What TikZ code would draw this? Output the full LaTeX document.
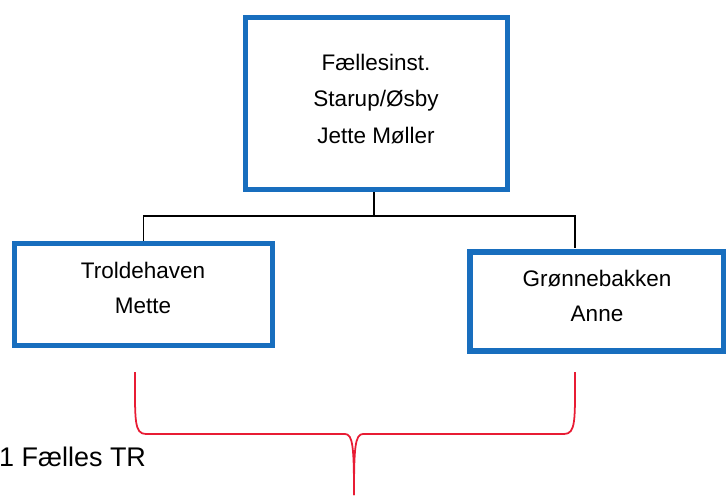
\documentclass[tikz,border=0pt]{standalone}
\usepackage{fontspec}
\setmainfont{Liberation Sans}
\usepackage{tikz}
\usetikzlibrary{positioning}

\definecolor{boxblue}{RGB}{24,110,190}
\definecolor{bracered}{RGB}{232,28,52}

\tikzset{
	unitbox/.style={draw=boxblue, line width=4.5pt, fill=white, rectangle},
	unittext/.style={align=center, inner sep=0pt, font=\fontsize{19.2}{30.5}\selectfont},
}

\begin{document}
\begin{tikzpicture}[x=0.03cm, y=-0.03cm]
	\useasboundingbox (0,0) rectangle (726,495);

	\node[unitbox, minimum width=7.86cm, minimum height=5.16cm] (top) at (376.5,103.5) {};
	\node[unitbox, minimum width=7.74cm, minimum height=3.06cm] (trold) at (143.5,294.5) {};
	\node[unitbox, minimum width=7.62cm, minimum height=2.97cm] (gron) at (597,301.5) {};

	\node[unittext, font=\fontsize{19.2}{31.5}\selectfont] (toptext) at (376,99) {F\ae llesinst.\\Starup/\O sby\\Jette M\o ller};
	\node[unittext] (troldtext) at (143,288) {Troldehaven\\Mette};
	\node[unittext] (grontext) at (597,296) {Gr\o nnebakken\\Anne};

	\coordinate (bar) at (374,216);
	\coordinate (gronin) at (575,248);
	\draw[line width=1.2pt] (top.south -| bar) -- (bar);
	\draw[line width=1.2pt] (trold) |- (bar);
	\draw[line width=1.2pt] (bar) -| (gronin);

	% brace under the two units
	\coordinate (bl) at (135,372);
	\coordinate (br) at (575,372);
	\coordinate (tip) at (354,495);
	\draw[bracered, line width=1.5pt, line join=round]
		(bl) .. controls (135,420) and (134,434) .. (146,434)
		-- (345,434) .. controls (353,434) and (354,448) .. (tip);
	\draw[bracered, line width=1.5pt, line join=round]
		(br) .. controls (575,420) and (576,434) .. (564,434)
		-- (363,434) .. controls (355,434) and (354,448) .. (tip);

	\node[anchor=west, inner sep=0pt, font=\fontsize{23}{27}\selectfont] (tr) at (-1,457) {1 F\ae lles TR};
\end{tikzpicture}
\end{document}
